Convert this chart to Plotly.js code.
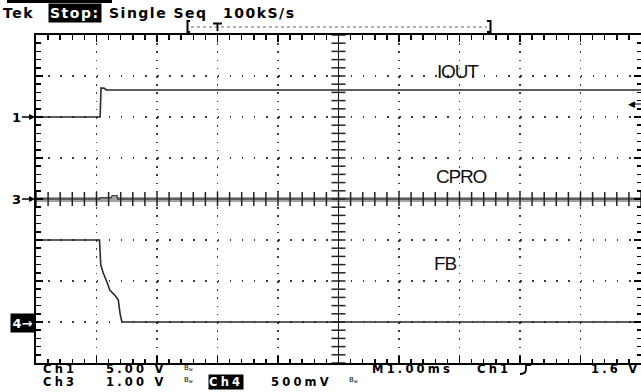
<!DOCTYPE html>
<html><head><meta charset="utf-8">
<script src="https://cdn.plot.ly/plotly-3.0.1.min.js"></script>
<style>
html,body{margin:0;padding:0;background:#fff;}
text.annotation-text[style*="Tahoma"]{letter-spacing:1.5px;}
text.annotation-text[style*="Verdana"]{letter-spacing:3.2px;}
text.annotation-text[style*="Liberation"]{letter-spacing:-1.2px;}
</style></head><body>
<div id="chart" style="width:641px;height:392px;"></div>
<script>
// Time in ms relative to screen centre (M 1.00 ms/div)
const iout_t = [-5, -3.94, -3.925, -3.87, -3.84, 5];
const iout_v = [0, 0, 3.55, 3.5, 3.3, 3.3];          // Ch1, 5.00 V/div
const cpro_t = [-5, -3.95, -3.94, -3.76, -3.74, -3.66, -3.65, 5];
const cpro_v = [0, 0, 0.03, 0.03, 0.08, 0.08, 0, 0]; // Ch3, 1.00 V/div
const fb_t = [-5, -3.95, -3.93, -3.89, -3.83, -3.78, -3.69, -3.64, -3.61, -3.58, 5];
const fb_v = [1.0, 1.0, 0.70, 0.60, 0.49, 0.39, 0.32, 0.27, 0.10, 0.0, 0.0]; // Ch4, 500 mV/div

const chNames = ['IOUT', 'CPRO', 'FB'];
const chVoltsPerDiv = [5, 1, 0.5];
const chGroundDiv = [2, 0, -3];
const chLabels = ['1', '3', '4'];

const readoutTop = ['Tek', 'Stop:', 'Single Seq', '100kS/s'];
const readoutRow1 = ['Ch1', '5.00 V', 'M1.00ms', 'Ch1', '1.6 V'];
const readoutRow2 = ['Ch3', '1.00 V', 'Ch4', '500mV'];

// ---------- helpers (pixel layout -> paper) ----------
const L = 36, R = 641, T = 35, B = 363;
const PX = x => (x - L) / (R - L);
const PY = y => (B - y) / (B - T);

function toDiv(vals, ch) { return vals.map(v => chGroundDiv[ch] + v / chVoltsPerDiv[ch]); }

const traceStyle = {mode: 'lines', hoverinfo: 'skip', line: {color: '#2a2a2a', width: 1.6}};
const traces = [
  Object.assign({x: iout_t, y: toDiv(iout_v, 0), name: chNames[0]}, traceStyle),
  Object.assign({x: cpro_t, y: toDiv(cpro_v, 1), name: chNames[1]}, traceStyle, {line: {color: '#444', width: 1.5}}),
  Object.assign({x: fb_t, y: toDiv(fb_v, 2), name: chNames[2]}, traceStyle)
];

// centre graticule tick marks
const hx = [], hy = [], vx = [], vy = [];
for (let k = 0; k <= 50; k++) { hx.push(-5 + k * 0.2); hy.push(0); }
for (let k = 0; k <= 40; k++) { vx.push(0); vy.push(-4 + k * 0.2); }
traces.push({x: hx, y: hy, mode: 'markers', hoverinfo: 'skip', cliponaxis: false,
  marker: {symbol: 'line-ns', size: 10, line: {color: '#222', width: 1.5}}});
traces.push({x: vx, y: vy, mode: 'markers', hoverinfo: 'skip', cliponaxis: false,
  marker: {symbol: 'line-ew', size: 10, line: {color: '#222', width: 1.5}}});

const TOP = {family: 'Tahoma, DejaVu Sans', size: 14, color: '#000', weight: 'bold'};
const BOT = {family: 'Verdana, DejaVu Sans', size: 11.5, color: '#000', weight: 'bold'};
const LBL = {family: 'Liberation Sans, Arial', size: 19, color: '#111'};
const MRK = {family: 'DejaVu Sans', size: 13, color: '#000', weight: 'bold'};
const BW = {family: 'DejaVu Sans', size: 7, color: '#000'};

function A(text, x, y, font, extra) {
  return Object.assign({xref: 'paper', yref: 'paper', x: PX(x), y: PY(y), text: text,
    showarrow: false, xanchor: 'left', yanchor: 'middle', font: font, borderpad: 0}, extra || {});
}
const inv = f => Object.assign({}, f, {color: '#fff'});

const annotations = [
  A(readoutTop[0], 2, 12.5, TOP),
  A(readoutTop[1], 48, 12.5, inv(TOP), {bgcolor: '#000', borderpad: 1}),
  A(readoutTop[2], 108, 12.5, TOP),
  A(readoutTop[3], 222, 12.5, TOP),

  A(readoutRow1[0], 42, 369, BOT),
  A(readoutRow1[1], 105, 369, BOT),
  A('B<sub>w</sub>', 183, 368, BW),
  A(readoutRow1[2], 371, 369, BOT),
  A(readoutRow1[3], 476, 369, BOT),
  A(readoutRow1[4], 590, 369, BOT),

  A(readoutRow2[0], 42, 382, BOT),
  A(readoutRow2[1], 105, 382, BOT),
  A('B<sub>w</sub>', 183, 380, BW),
  A(readoutRow2[2], 208, 382, inv(BOT), {bgcolor: '#000', borderpad: 0}),
  A(readoutRow2[3], 270, 382, BOT),
  A('B<sub>w</sub>', 348, 380, BW),

  A(chNames[0], 458, 71, LBL, {xanchor: 'center'}),
  A(chNames[1], 461, 176, LBL, {xanchor: 'center'}),
  A(chNames[2], 444.5, 263, LBL, {xanchor: 'center'}),

  // channel ground markers
  {xref: 'paper', yref: 'paper', x: PX(35), y: PY(117), text: chLabels[0], font: MRK,
   showarrow: true, ax: -19, ay: 0, arrowhead: 2, arrowsize: 0.9, arrowwidth: 1.3, arrowcolor: '#000', standoff: 0},
  {xref: 'paper', yref: 'paper', x: PX(35), y: PY(199), text: chLabels[1], font: MRK,
   showarrow: true, ax: -19, ay: 0, arrowhead: 2, arrowsize: 0.9, arrowwidth: 1.3, arrowcolor: '#000', standoff: 0},
  A(chLabels[2] + '→', 35, 322.5, inv(MRK), {xanchor: 'right', bgcolor: '#000', borderpad: 1.5}),

  // trigger level marker
  A('◀', 627, 104, {family: 'DejaVu Sans', size: 9, color: '#000'})
];

const line = (x0, y0, x1, y1, extra) => Object.assign({type: 'line', xref: 'paper', yref: 'paper',
  x0: PX(x0), y0: PY(y0), x1: PX(x1), y1: PY(y1), line: {color: '#000', width: 2}}, extra || {});
const path = (pts, w) => ({type: 'path', xref: 'paper', yref: 'paper',
  path: pts, line: {color: '#000', width: w || 2}});
const P = (x, y) => PX(x) + ',' + PY(y);

const shapes = [
  {type: 'rect', xref: 'paper', yref: 'paper', x0: PX(7), x1: PX(112), y0: PY(0), y1: PY(3),
   fillcolor: '#000', line: {width: 0}},
  // record bracket
  line(191, 27, 487, 27, {line: {color: '#666', width: 1, dash: 'dot'}}),
  path('M' + P(190, 21) + 'L' + P(187.5, 21) + 'L' + P(187.5, 32) + 'L' + P(190, 32), 2),
  path('M' + P(487, 21) + 'L' + P(490.5, 21) + 'L' + P(490.5, 32) + 'L' + P(487, 32), 2),
  path('M' + P(213, 23.5) + 'L' + P(222, 23.5) + 'M' + P(217.5, 23.5) + 'L' + P(217.5, 31), 1.8),
  // trigger level tail
  line(633, 104, 641, 104, {line: {color: '#000', width: 1}}),
  // slope icon
  path('M' + P(520, 374) + 'Q' + P(526, 374) + ' ' + P(526, 369) + 'L' + P(526, 365) + 'L' + P(531, 365), 1.8)
];

const axisCommon = {showticklabels: false, fixedrange: true, ticks: 'inside', tickwidth: 1.5,
  tickcolor: '#000', ticklen: 7, showline: true, linewidth: 2, linecolor: '#000', mirror: 'ticks',
  showgrid: true, gridcolor: '#3a3a3a', gridwidth: 1.6, zeroline: true};

const layout = {
  width: 641, height: 392,
  margin: {l: L, r: 0, t: T, b: 392 - B, pad: 0},
  paper_bgcolor: '#fff', plot_bgcolor: '#fff', showlegend: false,
  xaxis: Object.assign({}, axisCommon, {range: [-5, 5], dtick: 1, tick0: 0, griddash: '1.6px,6.6px',
    minor: {dtick: 0.2, tick0: 0, ticks: 'inside', ticklen: 4.5, tickwidth: 1.5, tickcolor: '#000', showgrid: false},
    zerolinecolor: '#111', zerolinewidth: 1.5}),
  yaxis: Object.assign({}, axisCommon, {range: [-4, 4], dtick: 1, tick0: 0, griddash: '1.6px,10.5px',
    minor: {dtick: 0.2, tick0: 0, ticks: 'inside', ticklen: 4.5, tickwidth: 1.5, tickcolor: '#000', showgrid: false},
    zerolinecolor: '#a3a3a3', zerolinewidth: 5}),
  annotations: annotations,
  shapes: shapes
};

Plotly.newPlot('chart', traces, layout, {displayModeBar: false, staticPlot: true});
</script>
</body></html>
